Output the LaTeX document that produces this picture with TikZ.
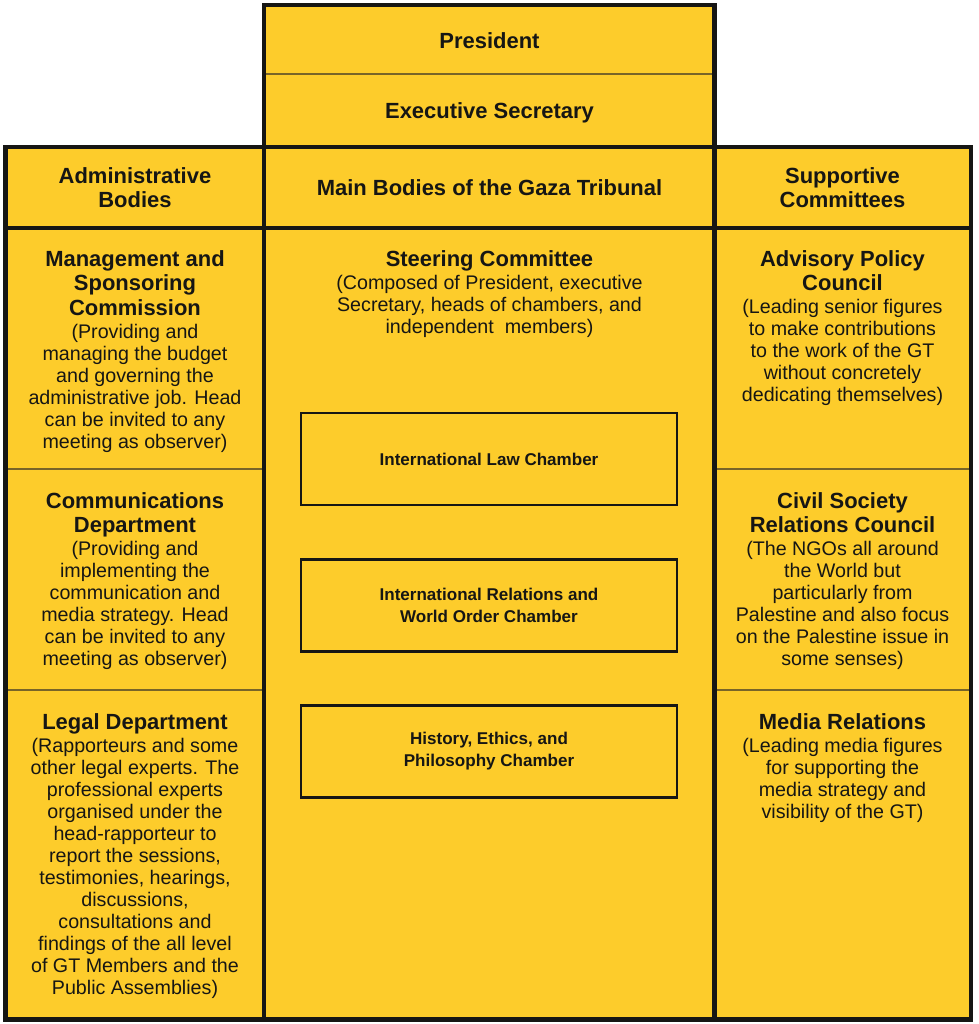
\documentclass[tikz,border=0pt]{standalone}
\usepackage{fontspec}
\setmainfont{Liberation Sans}
\definecolor{gtyellow}{RGB}{253,204,43}
\definecolor{gtdark}{RGB}{22,22,20}
\definecolor{gtrule}{RGB}{120,100,40}
\newcommand{\hd}{\fontsize{12.5}{13.9}\selectfont\bfseries}
\tikzset{
    frame/.style={draw=gtdark,line width=2.5pt},
    rule/.style={draw=gtrule,line width=0.6pt},
    txt/.style={anchor=north,inner sep=0pt,align=center,text=gtdark,
        font=\fontsize{11.2}{12.52}\selectfont},
    title/.style={txt,font=\hd},
    chamber/.style={draw=gtdark,line width=1.3pt,inner sep=0pt,align=center,
        minimum width=7.52cm,minimum height=1.84cm,text=gtdark,
        font=\fontsize{9.7}{12.5}\selectfont\bfseries}
}
\begin{document}
\begin{tikzpicture}[x=0.02cm,y=-0.02cm]
\useasboundingbox (0,0) rectangle (978,1024);

% Yellow background
\fill[gtyellow] (264,5) rectangle (714.5,147);
\fill[gtyellow] (5.5,147) rectangle (971,1019.5);

% Thin rules
\draw[rule] (264,74) -- (714.5,74);
\draw[rule] (5.5,469) -- (264,469);
\draw[rule] (5.5,690) -- (264,690);
\draw[rule] (714.5,469) -- (971,469);
\draw[rule] (714.5,690) -- (971,690);

% Frame
\draw[frame] (264,1019.5) -- (264,5) -- (714.5,5) -- (714.5,1019.5);
\draw[frame] (5.5,147) rectangle (971,1019.5);
\draw[frame] (5.5,228) -- (971,228);

% Top
\node[title] (pres) at (489.5,32) {President};
\node[title] (exec) at (489.5,102) {Executive Secretary};

% Headers
\node[title] (adm) at (135,167) {Administrative\\ Bodies};
\node[title] (main) at (489.5,179) {Main Bodies of the Gaza Tribunal};
\node[title] (sup) at (842.5,167) {Supportive\\ Committees};

% Administrative bodies
\node[txt] (mgmt) at (135,250) {{\hd Management and}\\[1.4pt] {\hd Sponsoring}\\[1.4pt]
    {\hd Commission}\\[0.6pt] (Providing and\\ managing the budget\\ and governing the\\
    administrative job. Head\\ can be invited to any\\ meeting as observer)};
\node[txt] (comm) at (135,492) {{\hd Communications}\\[1.4pt] {\hd Department}\\[0.6pt]
    (Providing and\\ implementing the\\ communication and\\ media strategy. Head\\
    can be invited to any\\ meeting as observer)};
\node[txt] (legal) at (135,713) {{\hd Legal Department}\\[0.6pt] (Rapporteurs and some\\
    other legal experts. The\\ professional experts\\ organised under the\\
    head-rapporteur to\\ report the sessions,\\ testimonies, hearings,\\ discussions,\\
    consultations and\\ findings of the all level\\ of GT Members and the\\ Public Assemblies)};

% Main bodies
\node[txt] (steer) at (489.5,250) {{\hd Steering Committee}\\[0.6pt]
    (Composed of President, executive\\ Secretary, heads of chambers, and\\
    independent\ \ members)};
\node[chamber] (law) at (489,459) {International Law Chamber};
\node[chamber] (rel) at (489,605.5) {International Relations and\\ World Order Chamber};
\node[chamber] (hist) at (489,751.5) {History, Ethics, and\\ Philosophy Chamber};

% Supportive committees
\node[txt] (adv) at (842.5,250) {{\hd Advisory Policy}\\[1.4pt] {\hd Council}\\[0.6pt]
    (Leading senior figures\\ to make contributions\\ to the work of the GT\\
    without concretely\\ dedicating themselves)};
\node[txt] (civil) at (842.5,492) {{\hd Civil Society}\\[1.4pt] {\hd Relations Council}\\[0.6pt]
    (The NGOs all around\\ the World but\\ particularly from\\ Palestine and also focus\\
    on the Palestine issue in\\ some senses)};
\node[txt] (media) at (842.5,713) {{\hd Media Relations}\\[0.6pt] (Leading media figures\\
    for supporting the\\ media strategy and\\ visibility of the GT)};

\end{tikzpicture}
\end{document}
